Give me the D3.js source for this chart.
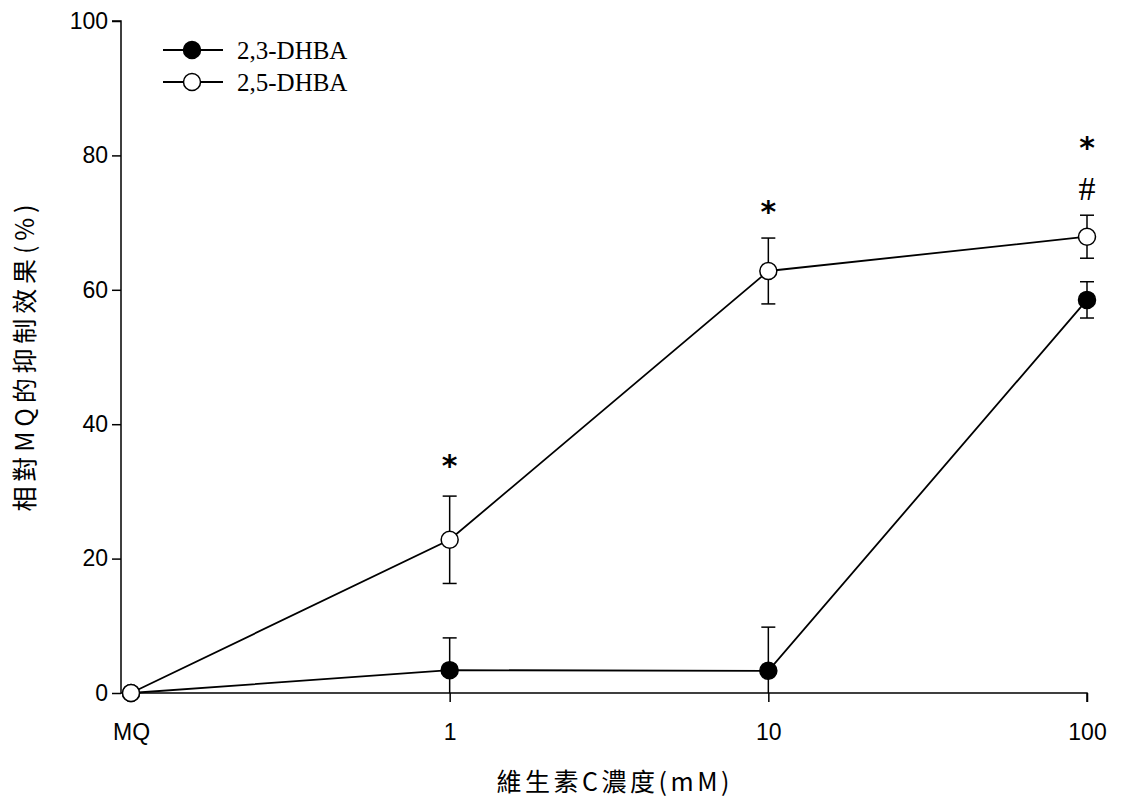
<!DOCTYPE html>
<html><head><meta charset="utf-8">
<script src="https://cdn.jsdelivr.net/npm/d3@7"></script>
<style>body{margin:0;background:#fff}</style>
</head><body>
<script>
const categories = ["MQ","1","10","100"];
const yTicks = [0,20,40,60,80,100];
const dhba23 = [0, 3.4, 3.3, 58.5];
const dhba23Err = [0, 4.8, 6.5, 2.7];
const dhba25 = [0, 22.8, 62.8, 67.9];
const dhba25Err = [0, 6.5, 4.9, 3.2];
const annotations = [
  {cat:"1", value:34.5, text:"*"},
  {cat:"10", value:72.3, text:"*"},
  {cat:"100", value:81.8, text:"*"},
  {cat:"100", value:75.1, text:"#"}
];

const W=1126,H=803;
const svg=d3.select("body").append("svg").attr("width",W).attr("height",H);
const x=d3.scalePoint().domain(categories).range([131,1087]);
const y=d3.scaleLinear().domain([0,100]).range([693,21]);
const axisX0=121;

// y axis
const gy=svg.append("g").attr("transform",`translate(${axisX0},0)`)
  .call(d3.axisLeft(y).tickValues(yTicks).tickSize(9).tickPadding(4).tickFormat(d3.format("d")));
gy.select(".domain").attr("d",`M-9,${y(100)}H0V${y(0)}`);
gy.selectAll("text").attr("font-family","Liberation Sans, Arial").attr("font-size",23).attr("fill","#000");
gy.selectAll("line,path").attr("stroke","#000").attr("stroke-width",1.5);

// x axis
const gx=svg.append("g").attr("transform",`translate(0,${y(0)})`)
  .call(d3.axisBottom(x).tickSize(9).tickPadding(22));
gx.select(".domain").attr("d",`M${axisX0},0H${x("100")}V9`);
gx.selectAll("text").attr("font-family","Liberation Sans, Arial").attr("font-size",23).attr("fill","#000");
gx.selectAll("line,path").attr("stroke","#000").attr("stroke-width",1.5);

const line=d3.line().x((d,i)=>x(categories[i])).y(d=>y(d));
function series(vals,errs,fill){
  const g=svg.append("g");
  vals.forEach((v,i)=>{
    if(!errs[i]) return;
    const cx=x(categories[i]);
    const lo=Math.max(0,v-errs[i]), hi=v+errs[i];
    g.append("line").attr("x1",cx).attr("x2",cx).attr("y1",y(lo)).attr("y2",y(hi)).attr("stroke","#000").attr("stroke-width",1.5);
    g.append("line").attr("x1",cx-7).attr("x2",cx+7).attr("y1",y(hi)).attr("y2",y(hi)).attr("stroke","#000").attr("stroke-width",1.5);
    if(v-errs[i]>0) g.append("line").attr("x1",cx-7).attr("x2",cx+7).attr("y1",y(lo)).attr("y2",y(lo)).attr("stroke","#000").attr("stroke-width",1.5);
  });
  g.append("path").datum(vals).attr("d",line).attr("fill","none").attr("stroke","#000").attr("stroke-width",1.8);
  g.selectAll("circle").data(vals).join("circle")
    .attr("cx",(d,i)=>x(categories[i])).attr("cy",d=>y(d)).attr("r",8.5)
    .attr("fill",fill).attr("stroke","#000").attr("stroke-width",1.5);
}
series(dhba23,dhba23Err,"#000");
series(dhba25,dhba25Err,"#fff");

// annotations (value = visual centre of glyph)
svg.selectAll("text.ann").data(annotations).join("text").attr("class","ann")
  .attr("x",d=>x(d.cat)).attr("y",d=>y(d.value))
  .attr("dy",d=>d.text==="*"?"0.5em":"0.33em")
  .attr("text-anchor","middle")
  .attr("font-family",d=>d.text==="*"?"DejaVu Sans":"Liberation Serif")
  .attr("font-weight",d=>d.text==="*"?"bold":"normal")
  .attr("font-size",d=>d.text==="*"?30:34).text(d=>d.text);

// legend
const legend=[{name:"2,3-DHBA",fill:"#000"},{name:"2,5-DHBA",fill:"#fff"}];
legend.forEach((l,i)=>{
  const ly=50+i*32;
  svg.append("line").attr("x1",163).attr("x2",223).attr("y1",ly).attr("y2",ly).attr("stroke","#000").attr("stroke-width",1.8);
  svg.append("circle").attr("cx",192).attr("cy",ly).attr("r",8.5).attr("fill",l.fill).attr("stroke","#000").attr("stroke-width",1.5);
  svg.append("text").attr("x",237).attr("y",ly).attr("dy","0.34em")
    .attr("font-family","Liberation Serif, Times New Roman").attr("font-size",25).text(l.name);
});

// axis titles
svg.append("text").attr("x",613).attr("y",782).attr("text-anchor","middle").attr("dy","0.36em")
  .attr("textLength",233).attr("lengthAdjust","spacing")
  .attr("font-family","Noto Sans CJK TC").attr("font-size",25).text("維生素C濃度(mM)");
svg.append("text").attr("transform","translate(25,358) rotate(-90)").attr("text-anchor","middle").attr("dy","0.36em")
  .attr("textLength",307).attr("lengthAdjust","spacing")
  .attr("font-family","Noto Sans CJK TC").attr("font-size",25).text("相對MQ的抑制效果(%)");
</script>
</body></html>
